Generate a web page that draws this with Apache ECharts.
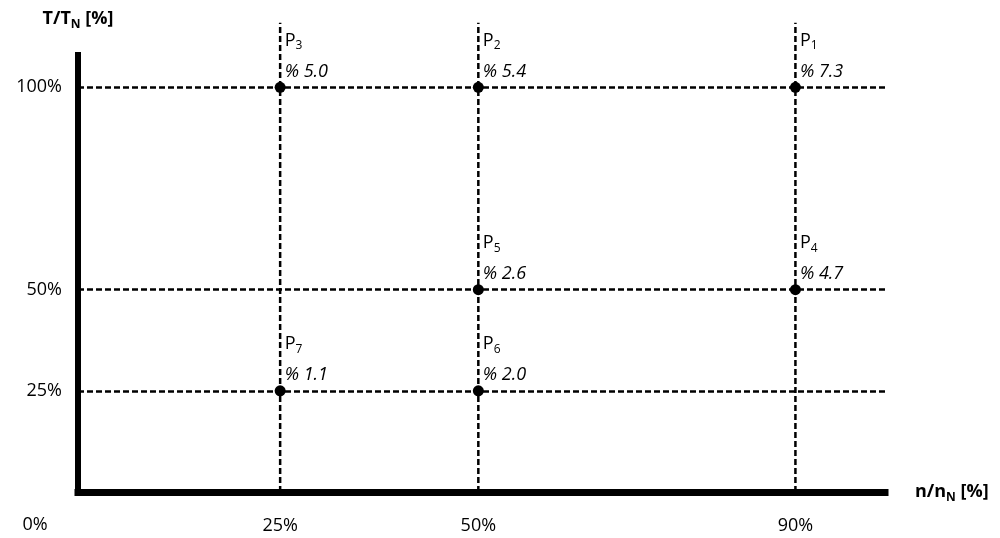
<!doctype html>
<html>
<head>
<meta charset="UTF-8">
<title>Operating points</title>
<script src="https://cdn.jsdelivr.net/npm/echarts@6/dist/echarts.min.js"></script>
<style>
  html, body { margin: 0; padding: 0; background: #fff; }
  #chart { width: 1000px; height: 538px; }
</style>
</head>
<body>
<div id="chart"></div>
<script>
// operating points: speed n/nN [%], torque T/TN [%], loss value shown
var pointIds = ['1', '2', '3', '4', '5', '6', '7'];
var speedPct = [90, 50, 25, 90, 50, 50, 25];
var torquePct = [100, 100, 100, 50, 50, 25, 25];
var lossText = ['7.3', '5.4', '5.0', '4.7', '2.6', '2.0', '1.1'];

// tick labels
var xTicks = [25, 50, 90];
var yTicks = [25, 50, 100];

var FONT = '"Open Sans", "Noto Sans", sans-serif';
var guideTop = 116; // vertical guides run a bit above the axis

var points = speedPct.map(function (x, i) {
  return { value: [x, torquePct[i]], pid: pointIds[i], loss: lossText[i] };
});

var dashStyle = { color: '#000', width: 2.5, type: [6, 3] };

var series = [];
// vertical guides
xTicks.forEach(function (x) {
  series.push({
    type: 'line',
    data: [[x, 0], [x, guideTop]],
    symbol: 'none',
    clip: false,
    silent: true,
    lineStyle: dashStyle,
    z: 1
  });
});
// points + horizontal guides
series.push({
  type: 'scatter',
  data: points,
  symbolSize: 11,
  itemStyle: { color: '#000', opacity: 1 },
  z: 5,
  label: {
    show: true,
    position: [10, -58],
    align: 'left',
    verticalAlign: 'top',
    fontFamily: FONT,
    fontSize: 18,
    color: '#000',
    lineHeight: 32,
    formatter: function (p) {
      return '{p|P}{sub|' + p.data.pid + '}\n{it|% ' + p.data.loss + '}';
    },
    rich: {
      p: { fontSize: 18, fontFamily: FONT, color: '#000', verticalAlign: 'bottom', lineHeight: 32,
        padding: [0, 0, 6, 0] },
      sub: { fontSize: 12, fontFamily: FONT, color: '#000', verticalAlign: 'bottom', padding: [0, 0, 4, 0] },
      it: { fontStyle: 'italic', fontSize: 18, fontFamily: FONT, color: '#000', lineHeight: 32 }
    }
  },
  markLine: {
    silent: true,
    symbol: ['none', 'none'],
    label: { show: false },
    lineStyle: dashStyle,
    data: yTicks.map(function (v) { return { yAxis: v }; })
  }
});

var nameStyle = {
  fontFamily: FONT, fontSize: 18, fontWeight: 'bold', color: '#000', lineHeight: 24,
  rich: {
    sub: { fontSize: 12, fontWeight: 'bold', fontFamily: FONT, color: '#000',
      verticalAlign: 'bottom', lineHeight: 10 }
  }
};

var chart = echarts.init(document.getElementById('chart'));
chart.setOption({
  animation: false,
  grid: { left: 78, right: 115, top: 55, bottom: 46, containLabel: false },
  xAxis: {
    type: 'value',
    min: -0.5,
    max: 101.3,
    name: 'n/n{sub|N} [%]',
    nameLocation: 'end',
    nameGap: 30,
    nameTextStyle: Object.assign({ align: 'left', verticalAlign: 'middle' }, nameStyle),
    axisLine: { onZero: false, lineStyle: { color: '#000', width: 7, cap: 'square' } },
    axisTick: { show: false },
    splitLine: { show: false },
    axisLabel: {
      customValues: xTicks,
      formatter: '{value}%',
      margin: 25,
      fontFamily: FONT, fontSize: 18, color: '#000'
    }
  },
  yAxis: {
    type: 'value',
    min: 0,
    max: 108,
    name: 'T/T{sub|N} [%]',
    nameLocation: 'end',
    nameGap: 24,
    nameTextStyle: nameStyle,
    axisLine: { show: true, onZero: false, lineStyle: { color: '#000', width: 6, cap: 'square' } },
    axisTick: { show: false },
    splitLine: { show: false },
    axisLabel: {
      customValues: yTicks,
      formatter: '{value}%',
      margin: 16,
      fontFamily: FONT, fontSize: 18, color: '#000'
    }
  },
  graphic: [{
    type: 'text',
    style: { text: '0%', x: 35, y: 525, align: 'center', verticalAlign: 'middle',
      font: '18px ' + FONT, fill: '#000' }
  }],
  series: series
});
</script>
</body>
</html>
